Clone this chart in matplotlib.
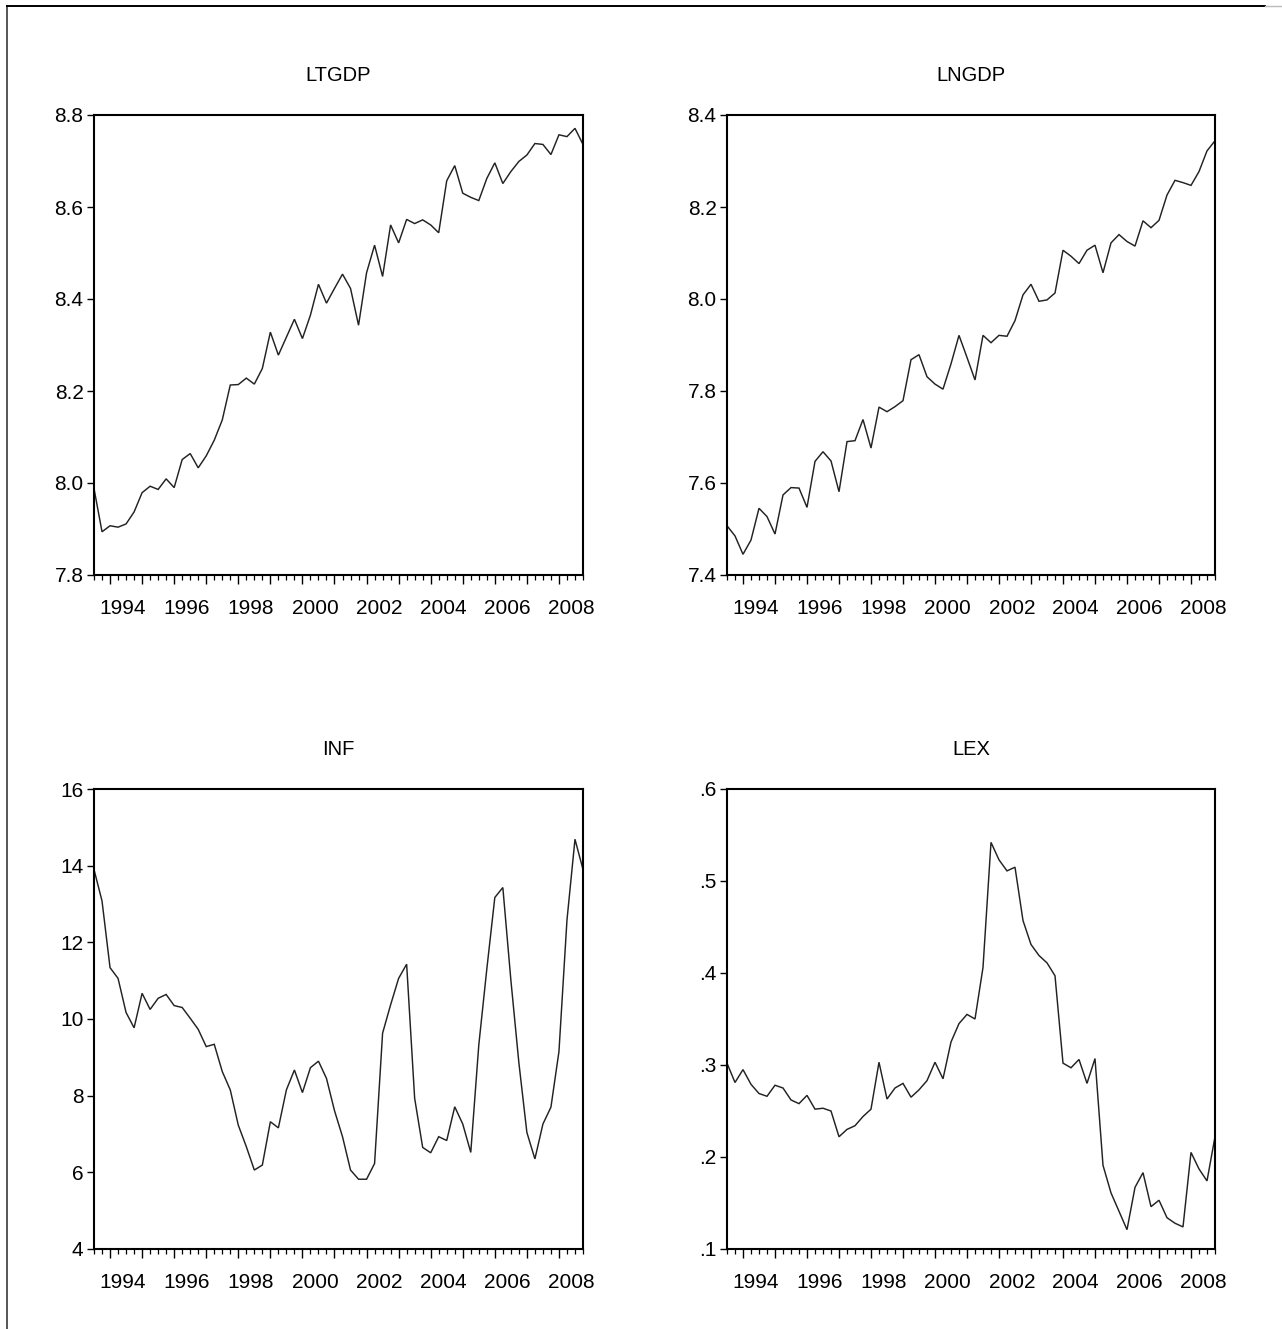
import numpy as np
import matplotlib
matplotlib.use("Agg")
import matplotlib.pyplot as plt
from matplotlib.lines import Line2D
from matplotlib.ticker import FixedLocator, NullFormatter

plt.rcParams['font.family'] = ['Liberation Sans', 'DejaVu Sans']

# Quarterly sample 1993Q3 - 2008Q4
first_quarter = 1993.5
n_obs = 62

ltgdp = [7.988, 7.894, 7.907, 7.904, 7.911, 7.937, 7.979, 7.993, 7.986, 8.009,
         7.990, 8.051, 8.064, 8.033, 8.059, 8.093, 8.137, 8.213, 8.214, 8.228,
         8.215, 8.249, 8.328, 8.278, 8.317, 8.356, 8.314, 8.365, 8.432, 8.391,
         8.423, 8.454, 8.423, 8.343, 8.457, 8.517, 8.449, 8.561, 8.522, 8.573,
         8.564, 8.572, 8.561, 8.544, 8.657, 8.690, 8.630, 8.621, 8.614, 8.662,
         8.696, 8.651, 8.677, 8.699, 8.713, 8.738, 8.736, 8.714, 8.757, 8.753,
         8.771, 8.736]

lngdp = [7.507, 7.485, 7.445, 7.476, 7.545, 7.527, 7.489, 7.574, 7.590, 7.589,
         7.547, 7.647, 7.668, 7.648, 7.581, 7.690, 7.692, 7.738, 7.676, 7.765,
         7.755, 7.766, 7.779, 7.868, 7.879, 7.831, 7.815, 7.804, 7.859, 7.921,
         7.873, 7.824, 7.921, 7.905, 7.921, 7.919, 7.953, 8.009, 8.032, 7.995,
         7.998, 8.013, 8.106, 8.093, 8.077, 8.106, 8.117, 8.057, 8.122, 8.140,
         8.125, 8.115, 8.170, 8.155, 8.171, 8.226, 8.258, 8.253, 8.247, 8.277,
         8.322, 8.344]

inf = [13.90, 13.08, 11.34, 11.06, 10.17, 9.77, 10.67, 10.25, 10.54, 10.64,
       10.35, 10.30, 10.02, 9.73, 9.28, 9.34, 8.63, 8.15, 7.23, 6.67,
       6.06, 6.19, 7.32, 7.16, 8.15, 8.67, 8.08, 8.73, 8.90, 8.45,
       7.61, 6.93, 6.06, 5.82, 5.82, 6.23, 9.63, 10.37, 11.06, 11.43,
       7.93, 6.65, 6.51, 6.93, 6.83, 7.71, 7.26, 6.52, 9.32, 11.30,
       13.17, 13.43, 11.02, 8.86, 7.04, 6.35, 7.26, 7.70, 9.15, 12.58,
       14.69, 13.90]

lex = [0.302, 0.281, 0.295, 0.279, 0.269, 0.266, 0.278, 0.275, 0.262, 0.258,
       0.267, 0.252, 0.253, 0.250, 0.222, 0.230, 0.234, 0.244, 0.252, 0.303,
       0.263, 0.275, 0.280, 0.265, 0.273, 0.283, 0.303, 0.285, 0.325, 0.345,
       0.355, 0.350, 0.406, 0.542, 0.523, 0.511, 0.515, 0.457, 0.431, 0.419,
       0.411, 0.397, 0.302, 0.297, 0.306, 0.280, 0.307, 0.191, 0.161, 0.141,
       0.121, 0.167, 0.183, 0.146, 0.153, 0.134, 0.128, 0.124, 0.205, 0.187,
       0.174, 0.222]

year_labels = ['1994', '1996', '1998', '2000', '2002', '2004', '2006', '2008']

W, H = 1282, 1329
fig = plt.figure(figsize=(W / 100, H / 100), dpi=100)


def rect(left, right, top, bottom):
    return [left / W, 1 - bottom / H, (right - left) / W, (bottom - top) / H]


panels = [
    ("LTGDP", ltgdp, (7.8, 8.8), [7.8, 8.0, 8.2, 8.4, 8.6, 8.8],
     ["7.8", "8.0", "8.2", "8.4", "8.6", "8.8"], rect(94, 583, 115, 575)),
    ("LNGDP", lngdp, (7.4, 8.4), [7.4, 7.6, 7.8, 8.0, 8.2, 8.4],
     ["7.4", "7.6", "7.8", "8.0", "8.2", "8.4"], rect(727, 1215, 115, 575)),
    ("INF", inf, (4, 16), [4, 6, 8, 10, 12, 14, 16],
     ["4", "6", "8", "10", "12", "14", "16"], rect(94, 583, 789, 1249)),
    ("LEX", lex, (0.1, 0.6), [0.1, 0.2, 0.3, 0.4, 0.5, 0.6],
     [".1", ".2", ".3", ".4", ".5", ".6"], rect(727, 1215, 789, 1249)),
]

dates = first_quarter + 0.25 * np.arange(n_obs)
x_end = dates[-1]
year_ticks = np.arange(1994, 2009)
quarter_ticks = first_quarter + 0.25 * np.arange(n_obs)

for title, values, ylim, yticks, ylabels, r in panels:
    ax = fig.add_axes(r)
    ax.plot(dates, values, color='#222222', lw=1.05, solid_joinstyle='miter')
    ax.set_xlim(first_quarter, x_end)
    ax.set_ylim(*ylim)

    ax.set_yticks(yticks)
    ax.set_yticklabels(ylabels)
    ax.tick_params(axis='y', direction='out', length=5, width=1.0,
                   labelsize=15, pad=2.5, right=False)

    ax.xaxis.set_major_locator(FixedLocator(year_ticks))
    ax.xaxis.set_minor_locator(FixedLocator(quarter_ticks))
    ax.xaxis.set_major_formatter(NullFormatter())
    ax.tick_params(axis='x', which='major', direction='out', length=6.5,
                   width=1.0, top=False)
    ax.tick_params(axis='x', which='minor', direction='out', length=3.3,
                   width=0.9, top=False)

    xt = ax.get_xaxis_transform()
    for lab in year_labels:
        ax.text(int(lab) + 0.4, -0.053, lab, transform=xt, ha='center',
                va='top', fontsize=15)

    for sp in ax.spines.values():
        sp.set_linewidth(1.5)
        sp.set_color('black')

    ax.text(0.5, 1.074, title, transform=ax.transAxes, ha='center',
            va='baseline', fontsize=14.5)

# outer frame (left and top edges)
fig.add_artist(Line2D([7 / W, 7 / W], [0, 1 - 6 / H], transform=fig.transFigure,
                      color='#555555', lw=1.4))
fig.add_artist(Line2D([7 / W, 1265 / W], [1 - 6 / H, 1 - 6 / H],
                      transform=fig.transFigure, color='black', lw=1.4))
fig.add_artist(Line2D([1265 / W, 1], [1 - 6 / H, 1 - 6 / H],
                      transform=fig.transFigure, color='#bbbbbb', lw=1.0))

fig.savefig("out.png", dpi=100, facecolor='white')
